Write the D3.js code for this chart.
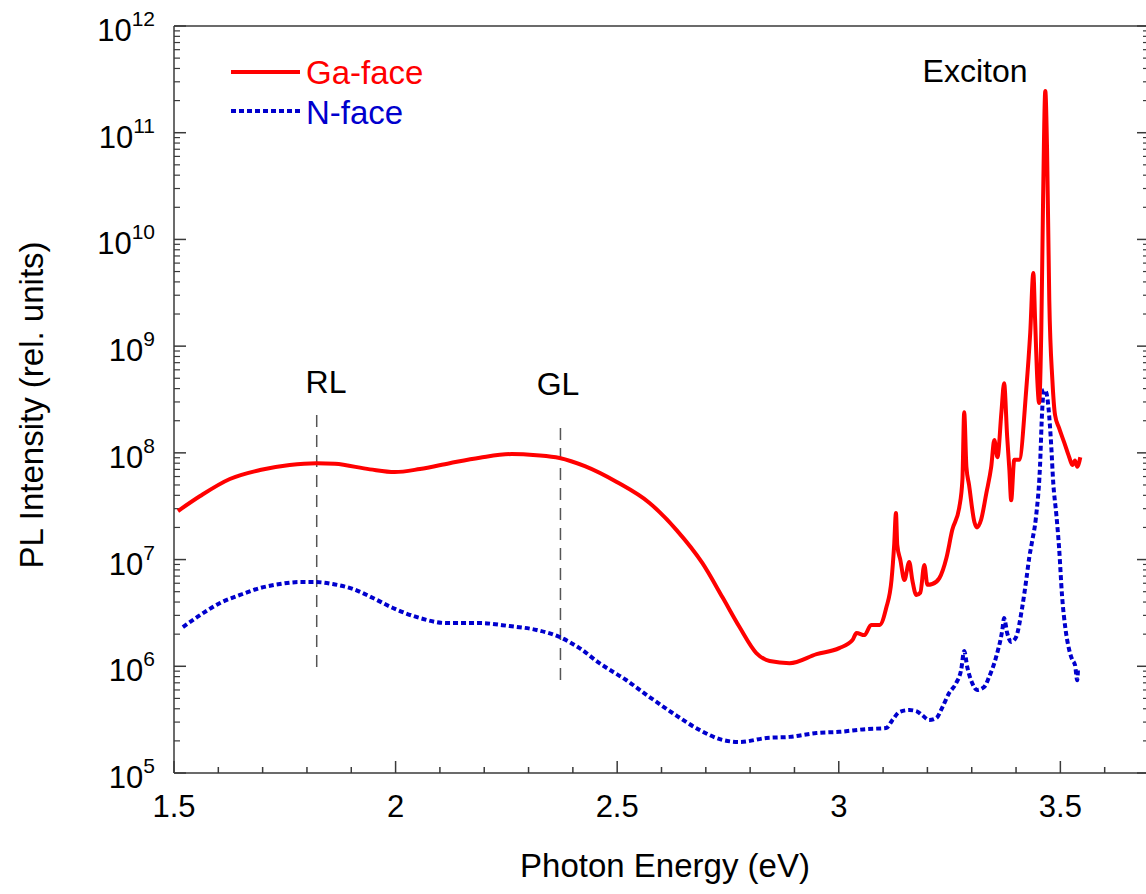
<!DOCTYPE html>
<html>
<head>
<meta charset="utf-8">
<script src="https://cdn.jsdelivr.net/npm/d3@7"></script>
<style>
  html, body { margin: 0; padding: 0; background: #fff; }
  svg { display: block; font-family: "Liberation Sans", Arial, sans-serif; }
</style>
</head>
<body>
<svg id="chart" width="1146" height="894"></svg>
<script>
// ---- Data ----
const gaEnergy = [1.509,1.559,1.626,1.694,1.761,1.822,1.863,1.942,1.998,2.055,2.122,2.190,2.262,2.318,2.370,2.427,2.499,2.573,2.634,2.692,2.738,2.776,2.814,2.844,2.889,2.950,3.001,3.031,3.040,3.058,3.073,3.092,3.107,3.119,3.125,3.129,3.132,3.139,3.148,3.159,3.166,3.175,3.184,3.193,3.200,3.211,3.227,3.243,3.256,3.272,3.279,3.283,3.288,3.294,3.306,3.312,3.321,3.333,3.344,3.351,3.358,3.367,3.373,3.380,3.385,3.389,3.396,3.407,3.423,3.432,3.439,3.443,3.448,3.452,3.457,3.461,3.466,3.470,3.475,3.482,3.488,3.497,3.509,3.520,3.527,3.533,3.538,3.545];
const gaIntensity = [2.85e7,3.94e7,5.69e7,6.9e7,7.7e7,8.0e7,7.9e7,7.0e7,6.6e7,7.06e7,8.0e7,9.0e7,9.75e7,9.5e7,8.95e7,7.5e7,5.33e7,3.39e7,1.89e7,9.3e6,4.4e6,2.33e6,1.33e6,1.12e6,1.07e6,1.30e6,1.48e6,1.76e6,2.05e6,1.96e6,2.44e6,2.44e6,3.52e6,6.43e6,1.37e7,2.73e7,1.37e7,9.9e6,6.43e6,9.5e6,6.4e6,4.65e6,4.9e6,8.9e6,5.8e6,5.9e6,6.7e6,1.04e7,1.89e7,3.1e7,5.6e7,2.4e8,7.4e7,5.0e7,2.25e7,2.0e7,2.35e7,4.2e7,7.4e7,1.32e8,9.1e7,2.4e8,4.5e8,1.41e8,6.9e7,3.6e7,8.6e7,8.6e7,3.9e8,1.33e9,4.84e9,1.76e9,4.8e8,2.93e8,1.42e9,2.34e10,2.46e11,6.9e10,2.7e9,4.8e8,2.26e8,1.71e8,1.24e8,9.1e7,7.7e7,8.5e7,7.4e7,9.1e7];

const nEnergy = [1.520,1.559,1.604,1.649,1.694,1.739,1.784,1.818,1.858,1.904,1.949,1.994,2.055,2.115,2.190,2.257,2.318,2.370,2.415,2.460,2.521,2.573,2.625,2.686,2.738,2.776,2.837,2.889,2.950,3.001,3.062,3.107,3.121,3.137,3.159,3.175,3.188,3.204,3.220,3.234,3.249,3.265,3.276,3.283,3.290,3.301,3.312,3.328,3.339,3.355,3.369,3.373,3.380,3.389,3.400,3.414,3.423,3.430,3.436,3.445,3.454,3.459,3.463,3.468,3.473,3.479,3.484,3.491,3.497,3.504,3.511,3.520,3.527,3.533,3.538,3.540];
const nIntensity = [2.33e6,3.02e6,3.92e6,4.66e6,5.41e6,5.9e6,6.16e6,6.16e6,5.9e6,5.3e6,4.36e6,3.52e6,2.83e6,2.54e6,2.54e6,2.38e6,2.19e6,1.88e6,1.48e6,1.07e6,7.4e5,5.15e5,3.65e5,2.53e5,2.04e5,1.95e5,2.13e5,2.18e5,2.37e5,2.43e5,2.58e5,2.64e5,3.13e5,3.73e5,3.89e5,3.8e5,3.49e5,3.13e5,3.27e5,4.15e5,5.61e5,6.97e5,9.2e5,1.39e6,9.8e5,6.97e5,6.0e5,6.4e5,7.9e5,1.22e6,2.19e6,2.83e6,2.05e6,1.69e6,1.88e6,3.59e6,6.43e6,1.06e7,1.46e7,2.5e7,7.4e7,2.52e8,3.9e8,3.7e8,2.69e8,1.24e8,5.2e7,2.62e7,1.31e7,4.46e6,2.33e6,1.42e6,1.15e6,1.03e6,7.4e5,9.7e5];

const xTicks = [1.5, 2, 2.5, 3, 3.5];
const xTickLabels = ["1.5", "2", "2.5", "3", "3.5"];
const yExponents = [5, 6, 7, 8, 9, 10, 11, 12];
const seriesNames = ["Ga-face", "N-face"];
const markers = [{label: "RL", energy: 1.822}, {label: "GL", energy: 2.372}];
const excitonLabel = {label: "Exciton", energy: 3.37};

// ---- Layout ----
const svg = d3.select("#chart");
const pLeft = 174, pRight = 1149, pTop = 26, pBottom = 773;
const x = d3.scaleLinear().domain([1.5, 3.7]).range([pLeft, pRight]);
const y = d3.scaleLog().domain([1e5, 1e12]).range([pBottom, pTop]);
const axisColor = "#3a3a3a";
const fontSize = 33;

// minor ticks
const xMinor = d3.range(15, 38).map(d => d / 10).filter(d => !xTicks.some(t => Math.abs(t - d) < 1e-6));
const yMinor = [];
yExponents.slice(0, -1).forEach(e => { for (let k = 2; k <= 9; k++) yMinor.push(k * Math.pow(10, e)); });

const g = svg.append("g");

// frame
g.append("line").attr("x1", pLeft).attr("x2", pRight).attr("y1", pTop).attr("y2", pTop).attr("stroke", axisColor).attr("stroke-width", 1.5);
g.append("line").attr("x1", pLeft).attr("x2", pRight).attr("y1", pBottom).attr("y2", pBottom).attr("stroke", axisColor).attr("stroke-width", 1.5);
g.append("line").attr("x1", pLeft).attr("x2", pLeft).attr("y1", pTop).attr("y2", pBottom).attr("stroke", axisColor).attr("stroke-width", 1.5);
g.append("line").attr("x1", pRight).attr("x2", pRight).attr("y1", pTop).attr("y2", pBottom).attr("stroke", axisColor).attr("stroke-width", 1.5);

// x ticks (inward)
g.selectAll(".xmaj").data(xTicks).enter().append("line")
  .attr("x1", d => x(d)).attr("x2", d => x(d)).attr("y1", pBottom).attr("y2", pBottom - 12)
  .attr("stroke", axisColor).attr("stroke-width", 1.5);
g.selectAll(".xmin").data(xMinor).enter().append("line")
  .attr("x1", d => x(d)).attr("x2", d => x(d)).attr("y1", pBottom).attr("y2", pBottom - 6)
  .attr("stroke", axisColor).attr("stroke-width", 1.5);
g.selectAll(".xlab").data(xTicks).enter().append("text")
  .attr("x", d => x(d)).attr("y", 817).attr("text-anchor", "middle")
  .attr("font-size", 31).attr("fill", "#000")
  .text((d, i) => xTickLabels[i]);

// y ticks (inward on both sides)
[pLeft, pRight].forEach((ax, side) => {
  const dir = side === 0 ? 1 : -1;
  g.selectAll(null).data(yExponents).enter().append("line")
    .attr("x1", ax).attr("x2", ax + dir * 12).attr("y1", d => y(Math.pow(10, d))).attr("y2", d => y(Math.pow(10, d)))
    .attr("stroke", axisColor).attr("stroke-width", 1.5);
  g.selectAll(null).data(yMinor).enter().append("line")
    .attr("x1", ax).attr("x2", ax + dir * 6).attr("y1", d => y(d)).attr("y2", d => y(d))
    .attr("stroke", axisColor).attr("stroke-width", 1.2);
});
const ylab = g.selectAll(".ylab").data(yExponents).enter().append("text")
  .attr("x", 155).attr("y", d => y(Math.pow(10, d)) + 15).attr("text-anchor", "end")
  .attr("font-size", 31).attr("fill", "#000");
ylab.append("tspan").text("10");
ylab.append("tspan").attr("dy", -15).attr("font-size", 21).text(d => d);

// axis titles
g.append("text").attr("x", 665).attr("y", 877).attr("text-anchor", "middle")
  .attr("font-size", fontSize).attr("fill", "#000").text("Photon Energy (eV)");
g.append("text").attr("transform", "translate(43,405) rotate(-90)").attr("text-anchor", "middle")
  .attr("font-size", fontSize).attr("fill", "#000").text("PL Intensity (rel. units)");

// marker dashed lines
const markerSpans = [[415, 672], [428, 687]];
const labelOffsets = [[326, 393], [558, 395]];
markers.forEach((m, i) => {
  g.append("line").attr("x1", x(m.energy)).attr("x2", x(m.energy))
    .attr("y1", markerSpans[i][0]).attr("y2", markerSpans[i][1])
    .attr("stroke", "#555").attr("stroke-width", 1.5).attr("stroke-dasharray", "12,8");
  g.append("text").attr("x", labelOffsets[i][0]).attr("y", labelOffsets[i][1]).attr("text-anchor", "middle")
    .attr("font-size", 32).attr("fill", "#000").text(m.label);
});
g.append("text").attr("x", 975).attr("y", 82).attr("text-anchor", "middle")
  .attr("font-size", 32).attr("fill", "#000").text(excitonLabel.label);

// curves
const line = d3.line().x(d => x(d[0])).y(d => y(d[1])).curve(d3.curveMonotoneX);
const gaData = gaEnergy.map((e, i) => [e, gaIntensity[i]]);
const nData = nEnergy.map((e, i) => [e, nIntensity[i]]);
g.append("path").attr("d", line(nData)).attr("fill", "none")
  .attr("stroke", "#0000cd").attr("stroke-width", 4).attr("stroke-dasharray", "5,3");
g.append("path").attr("d", line(gaData)).attr("fill", "none")
  .attr("stroke", "#ff0000").attr("stroke-width", 4).attr("stroke-linejoin", "round");

// legend
g.append("line").attr("x1", 231).attr("x2", 300).attr("y1", 72).attr("y2", 72)
  .attr("stroke", "#ff0000").attr("stroke-width", 4);
g.append("text").attr("x", 306).attr("y", 84).attr("font-size", fontSize).attr("fill", "#ff0000").text(seriesNames[0]);
g.append("line").attr("x1", 231).attr("x2", 300).attr("y1", 111).attr("y2", 111)
  .attr("stroke", "#0000cd").attr("stroke-width", 4).attr("stroke-dasharray", "5,3");
g.append("text").attr("x", 306).attr("y", 124).attr("font-size", fontSize).attr("fill", "#0000cd").text(seriesNames[1]);
</script>
</body>
</html>
